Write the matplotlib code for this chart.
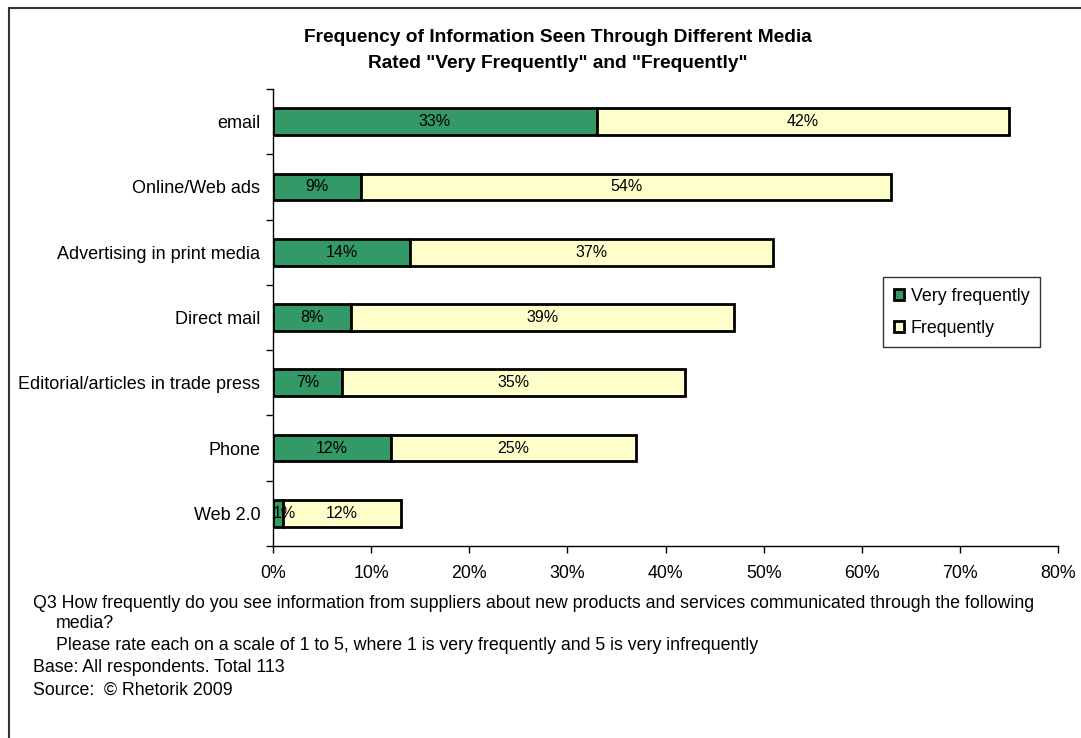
import matplotlib
matplotlib.use("Agg")
import matplotlib.pyplot as plt
from matplotlib.patches import Rectangle
from matplotlib.ticker import FixedLocator, NullFormatter

plt.rcParams['font.family'] = ['Liberation Sans', 'DejaVu Sans']

categories = ["email", "Online/Web ads", "Advertising in print media", "Direct mail",
              "Editorial/articles in trade press", "Phone", "Web 2.0"]
very_frequently = [33, 9, 14, 8, 7, 12, 1]
frequently = [42, 54, 37, 39, 35, 25, 12]
x_ticks = [0, 10, 20, 30, 40, 50, 60, 70, 80]
x_labels = ["0%", "10%", "20%", "30%", "40%", "50%", "60%", "70%", "80%"]

green = "#339966"
cream = "#FFFFCC"

fig = plt.figure(figsize=(10.81, 7.38), dpi=100)
W, H = 1081, 738
ax = fig.add_axes([273 / W, 1 - 546 / H, (1058 - 273) / W, (546 - 89) / H])

n = len(categories)
ypos = list(range(n))
h = 0.41
ax.barh(ypos, very_frequently, height=h, color=green, edgecolor="black", linewidth=2,
        label="Very frequently", zorder=3)
ax.barh(ypos, frequently, left=very_frequently, height=h, color=cream, edgecolor="black",
        linewidth=2, label="Frequently", zorder=3)

for i in range(n):
    v1, v2 = very_frequently[i], frequently[i]
    x1 = v1 / 2 if v1 >= 3 else v1 / 2 + 0.7
    ax.text(x1, i, f"{v1}%", ha="center", va="center", fontsize=11.5, zorder=4)
    ax.text(v1 + v2 / 2, i, f"{v2}%", ha="center", va="center", fontsize=11.5, zorder=4)

ax.set_xlim(0, 80)
ax.set_ylim(n - 0.5, -0.5)
ax.set_xticks(x_ticks)
ax.set_xticklabels(x_labels, fontsize=12.8)
ax.yaxis.set_major_locator(FixedLocator([i - 0.5 for i in range(n + 1)]))
ax.yaxis.set_major_formatter(NullFormatter())
ax.yaxis.set_minor_locator(FixedLocator(ypos))
ax.set_yticklabels(categories, minor=True, fontsize=13)
ax.tick_params(axis="y", which="minor", length=0, pad=9)
ax.tick_params(axis="y", which="major", length=5, direction="out", width=1)
ax.tick_params(axis="x", length=5, direction="out", width=1, pad=9)
for s in ["top", "right"]:
    ax.spines[s].set_visible(False)
ax.spines["left"].set_linewidth(1)
ax.spines["bottom"].set_linewidth(1)

fig.text(558 / W, 1 - 38 / H, "Frequency of Information Seen Through Different Media",
         ha="center", va="center", fontsize=13.8, fontweight="bold")
fig.text(558 / W, 1 - 63 / H, 'Rated "Very Frequently" and "Frequently"',
         ha="center", va="center", fontsize=13.8, fontweight="bold")

leg = fig.legend(loc="upper left", bbox_to_anchor=(883 / W, 1 - 277 / H), frameon=True,
                 fontsize=12.8, handlelength=0.6, handleheight=0.6, handletextpad=0.35,
                 borderpad=0.6, labelspacing=0.85, borderaxespad=0,
                 fancybox=False, edgecolor="black")
leg.get_frame().set_linewidth(1)
for p in leg.get_patches():
    p.set_linewidth(2)

notes = [
    (33, 603, "Q3 How frequently do you see information from suppliers about new products and services communicated through the following"),
    (56, 624, "media?"),
    (56, 646, "Please rate each on a scale of 1 to 5, where 1 is very frequently and 5 is very infrequently"),
    (33, 668, "Base: All respondents. Total 113"),
    (33, 690, "Source:  \u00a9 Rhetorik 2009"),
]
for x, y, t in notes:
    fig.text(x / W, 1 - y / H, t, ha="left", va="center", fontsize=12.8)

border = Rectangle((8.5 / W, -0.05), 1.1, 1 - 7.5 / H + 0.05, transform=fig.transFigure,
                   fill=False, edgecolor="#333333", linewidth=1.5)
fig.patches.append(border)

fig.savefig("out.png", dpi=100)
